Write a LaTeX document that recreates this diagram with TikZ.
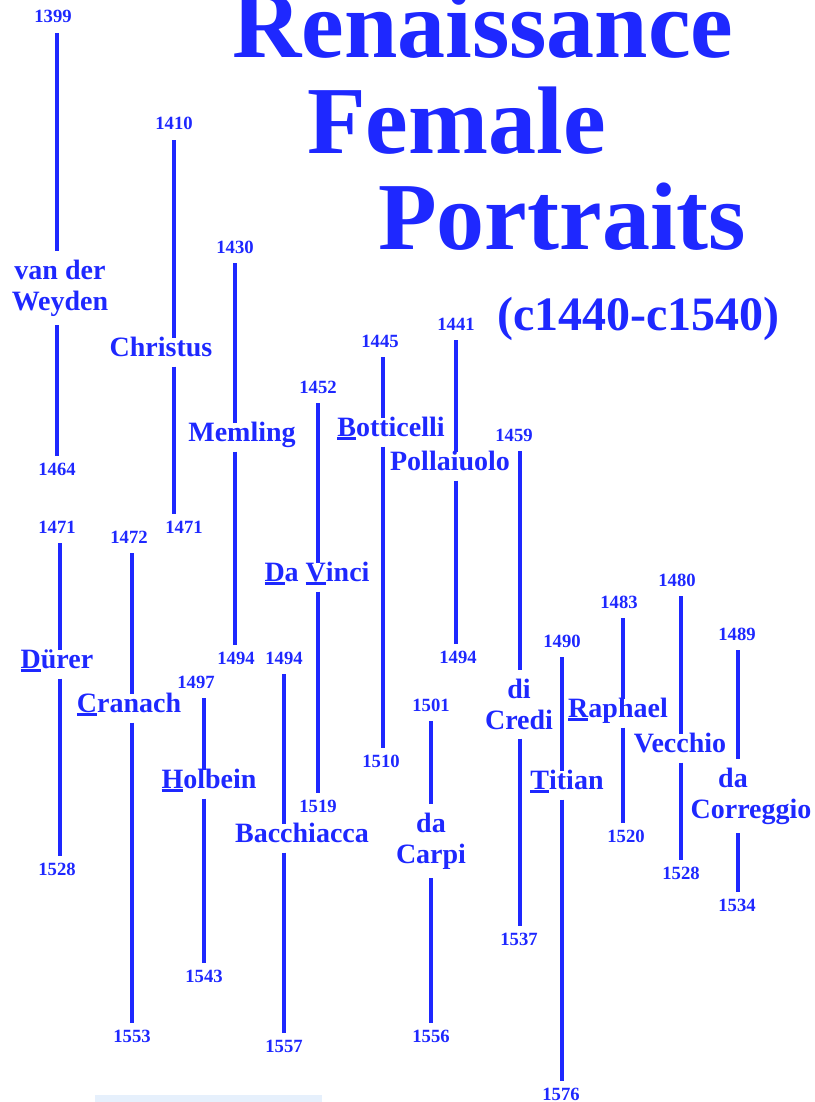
\documentclass[tikz,border=0pt]{standalone}
\usepackage{fontspec}
\setmainfont{Liberation Serif}
\definecolor{portblue}{HTML}{1E28FF}
\definecolor{stripblue}{HTML}{E6F0FC}
\newcommand{\ulfirst}[1]{\setbox0=\hbox{#1}\rlap{\rule[-.14em]{\wd0}{.1em}}\box0}

\begin{document}
\begin{tikzpicture}[x=0.75pt, y=-0.75pt,
  year/.style={font=\fontsize{14pt}{16pt}\selectfont\bfseries, text=portblue,
               anchor=base, inner xsep=0pt, inner ysep=7.5pt,
               text height=.68em, text depth=0pt},
  painter/.style={font=\fontsize{21pt}{23pt}\selectfont\bfseries, text=portblue,
                  anchor=base, align=center, inner xsep=0pt, inner ysep=6.75pt},
  oneline/.style={painter, text height=.68em, text depth=.1em},
  heading/.style={font=\fontsize{72pt}{72pt}\selectfont\bfseries, text=portblue,
                  anchor=base west, inner sep=0pt},
  stem/.style={portblue, line width=2.4pt}]
  \useasboundingbox (0,0) rectangle (814,1102);

  % title
  \node[heading] (title1) at (232,58) {Renaissance};
  \node[heading] (title2) at (307,153) {Female};
  \node[heading] (title3) at (378,249) {Portraits};
  \node[heading, font=\fontsize{36pt}{36pt}\selectfont\bfseries] (period) at (497,330) {(c1440-c1540)};

  % painters (two-line names sit on their last line)
  \node[painter] (wey) at (60,310)  {van der\\Weyden};
  \node[oneline] (chr) at (161,356) {Christus};
  \node[oneline] (mem) at (242,441) {Memling};
  \node[oneline] (bot) at (391,436) {\ulfirst{B}otticelli};
  \node[oneline] (pol) at (450,470) {Pollaiuolo};
  \node[oneline] (dav) at (317,581) {\ulfirst{D}a \ulfirst{V}inci};
  \node[painter] (cre) at (519,729) {di\\Credi};
  \node[oneline] (dur) at (57,668)  {\ulfirst{D}ürer};
  \node[oneline] (cra) at (129,712) {\ulfirst{C}ranach};
  \node[oneline] (hol) at (209,788) {\ulfirst{H}olbein};
  \node[oneline] (bac) at (302,842) {Bacchiacca};
  \node[painter] (car) at (431,863) {da\\Carpi};
  \node[oneline] (tit) at (567,789) {\ulfirst{T}itian};
  \node[oneline] (rap) at (618,717) {\ulfirst{R}aphael};
  \node[oneline] (vec) at (680,752) {Vecchio};
  \node[painter] (cor) at (751,818) {da\hspace*{27pt}\\Correggio};

  % years
  \node[year] (wey-a) at (53,23)   {1399};
  \node[year] (wey-b) at (57,475)  {1464};
  \node[year] (chr-a) at (174,130) {1410};
  \node[year] (chr-b) at (184,533) {1471};
  \node[year] (mem-a) at (235,253) {1430};
  \node[year] (mem-b) at (236,664) {1494};
  \node[year] (bot-a) at (380,347) {1445};
  \node[year] (bot-b) at (381,767) {1510};
  \node[year] (pol-a) at (456,330) {1441};
  \node[year] (pol-b) at (458,663) {1494};
  \node[year] (dav-a) at (318,393) {1452};
  \node[year] (dav-b) at (318,812) {1519};
  \node[year] (cre-a) at (514,441) {1459};
  \node[year] (cre-b) at (519,945) {1537};
  \node[year] (dur-a) at (57,533)  {1471};
  \node[year] (dur-b) at (57,875)  {1528};
  \node[year] (cra-a) at (129,543) {1472};
  \node[year] (cra-b) at (132,1042) {1553};
  \node[year] (hol-a) at (196,688) {1497};
  \node[year] (hol-b) at (204,982) {1543};
  \node[year] (bac-a) at (284,664) {1494};
  \node[year] (bac-b) at (284,1052) {1557};
  \node[year] (car-a) at (431,711) {1501};
  \node[year] (car-b) at (431,1042) {1556};
  \node[year] (tit-a) at (562,647) {1490};
  \node[year] (tit-b) at (561,1100) {1576};
  \node[year] (rap-a) at (619,608) {1483};
  \node[year] (rap-b) at (626,842) {1520};
  \node[year] (vec-a) at (677,586) {1480};
  \node[year] (vec-b) at (681,879) {1528};
  \node[year] (cor-a) at (737,640) {1489};
  \node[year] (cor-b) at (737,911) {1534};

  % life lines
  \foreach \id/\sx in {wey/57, chr/174, mem/235, bot/383, pol/456, dav/318,
                       cre/520, dur/60, cra/132, hol/204, bac/284, car/431,
                       tit/562, rap/623, vec/681, cor/738}{%
    \coordinate (\id-x) at (\sx,0);
    \draw[stem] (\id-a.south -| \id-x) -- (\id.north -| \id-x);
    \draw[stem] (\id.south -| \id-x) -- (\id-b.north -| \id-x);}

  % strip at the foot
  \fill[stripblue] (95,1095) rectangle (322,1102);
\end{tikzpicture}
\end{document}
